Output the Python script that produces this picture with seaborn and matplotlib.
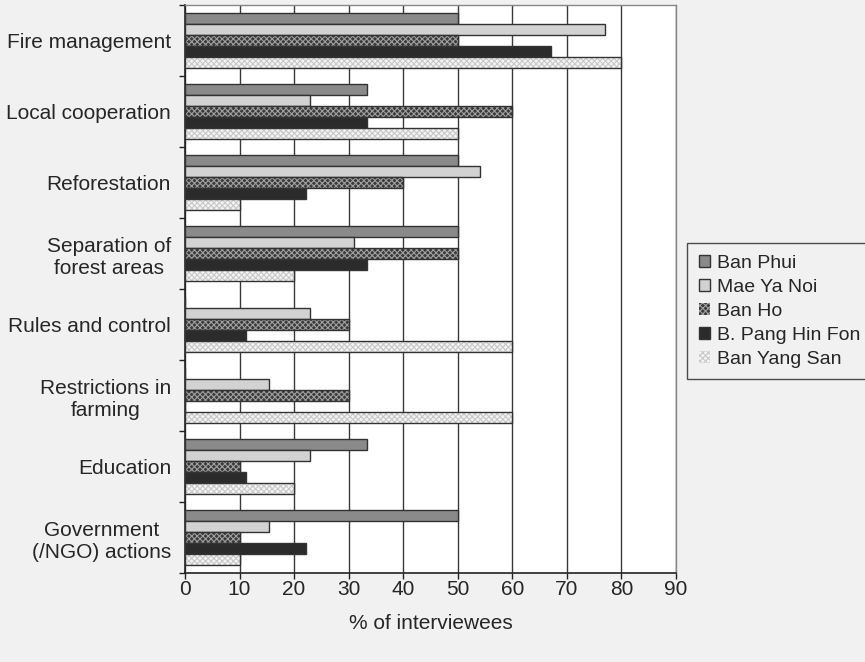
import matplotlib
matplotlib.use("Agg")
import matplotlib.pyplot as plt
import seaborn as sns
import pandas as pd
import numpy as np
from matplotlib.patches import Rectangle, Patch

categories = ["Fire management", "Local cooperation", "Reforestation",
              "Separation of\nforest areas", "Rules and control",
              "Restrictions in\nfarming", "Education",
              "Government\n(/NGO) actions"]
series = ["Ban Phui", "Mae Ya Noi", "Ban Ho", "B. Pang Hin Fon", "Ban Yang San"]

ban_phui = [50, 33.3, 50, 50, 0, 0, 33.3, 50]
mae_ya_noi = [77, 23, 54, 31, 23, 15.4, 23, 15.4]
ban_ho = [50, 60, 40, 50, 30, 30, 10, 10]
pang_hin_fon = [67, 33.3, 22.2, 33.3, 11.1, 0, 11.1, 22.2]
ban_yang_san = [80, 50, 10, 20, 60, 60, 20, 10]
x_ticks = [0, 10, 20, 30, 40, 50, 60, 70, 80, 90]

values = [ban_phui, mae_ya_noi, ban_ho, pang_hin_fon, ban_yang_san]
df = pd.DataFrame({
    "category": np.tile(categories, len(series)),
    "series": np.repeat(series, len(categories)),
    "value": np.concatenate(values),
})

face = {"Ban Phui": "#8a8a8a", "Mae Ya Noi": "#d2d2d2", "Ban Ho": "#3a3a3a",
        "B. Pang Hin Fon": "#2b2b2b", "Ban Yang San": "#f4f4f4"}
hatch = {"Ban Ho": ("xxxxxx", "#a0a0a0"), "Ban Yang San": ("xxxxxx", "#c8c8c8")}
edge = "#333333"

sns.set_theme(style="white")
plt.rcParams["font.family"] = ["Liberation Sans", "DejaVu Sans"]
plt.rcParams["hatch.linewidth"] = 0.8

fig = plt.figure(figsize=(8.65, 6.62), dpi=100, facecolor="#f1f1f1")
ax = fig.add_axes([185 / 865, 1 - 573 / 662, (676 - 185) / 865, (573 - 5) / 662])
ax.set_facecolor("white")

sns.barplot(data=df, y="category", x="value", hue="series", order=categories,
            hue_order=series, orient="h", palette=face, width=0.78,
            dodge=True, legend=False, ax=ax, saturation=1,
            edgecolor=edge, linewidth=1.0, errorbar=None, zorder=3)

for name, cont in zip(series, ax.containers):
    for p in cont.patches:
        if name in hatch:
            h, hc = hatch[name]
            p.set_hatch(h)
            p.set_edgecolor(hc)
            p.set_linewidth(0)
            ax.add_patch(Rectangle((p.get_x(), p.get_y()), p.get_width(), p.get_height(),
                                   facecolor="none", edgecolor=edge, linewidth=1.0, zorder=4))

ax.set_xlim(0, 90)
ax.set_ylim(len(categories) - 0.5, -0.5)
ax.set_xticks(x_ticks)
ax.set_xticklabels([str(t) for t in x_ticks], fontsize=15)
ax.grid(axis="x", color="#3a3a3a", linewidth=1.0, zorder=0)
ax.grid(axis="y", visible=False)
ax.set_axisbelow(True)

ax.set_yticks(range(len(categories)))
ax.set_yticklabels(categories, fontsize=15, multialignment="center")
ax.set_yticks(np.arange(-0.5, len(categories), 1), minor=True)
ax.tick_params(axis="y", which="major", length=0, pad=10)
ax.tick_params(axis="y", which="minor", length=4.5, width=1, color="#222", direction="out", left=True)
ax.tick_params(axis="x", which="major", length=4.5, width=1, color="#222", direction="out",
               bottom=True, pad=0.5)

ax.set_xlabel("% of interviewees", fontsize=15, labelpad=11)
ax.set_ylabel("")

for s in ["left", "bottom"]:
    ax.spines[s].set_color("#222")
    ax.spines[s].set_linewidth(1.2)
for s in ["top", "right"]:
    ax.spines[s].set_color("#888")
    ax.spines[s].set_linewidth(1.0)

handles = []
for name in series:
    if name in hatch:
        h, hc = hatch[name]
        handles.append(Patch(facecolor=face[name], edgecolor=hc, hatch=h, linewidth=0))
    else:
        handles.append(Patch(facecolor=face[name], edgecolor=edge, linewidth=1.0))

leg = fig.legend(handles=handles, labels=series, loc="upper left",
                 bbox_to_anchor=(687 / 865, 1 - 243 / 662), frameon=True,
                 fontsize=14, handlelength=0.6, handleheight=0.6, handletextpad=0.35,
                 labelspacing=0.36, borderpad=0.6, borderaxespad=0, fancybox=False)
leg.get_frame().set_edgecolor("#222")
leg.get_frame().set_facecolor("#f1f1f1")
leg.get_frame().set_linewidth(1.0)

fig.savefig("out.png", dpi=100, facecolor=fig.get_facecolor())
